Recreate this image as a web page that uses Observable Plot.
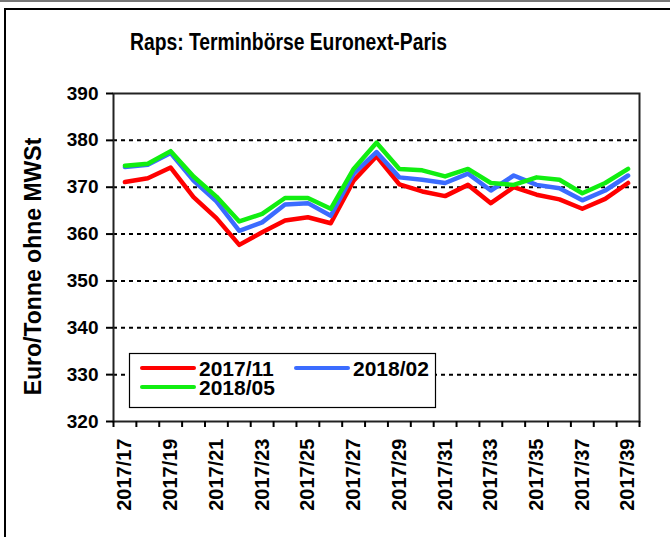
<!DOCTYPE html>
<html>
<head>
<meta charset="utf-8">
<script src="https://cdn.jsdelivr.net/npm/d3@7"></script>
<script src="https://cdn.jsdelivr.net/npm/@observablehq/plot@0.6"></script>
<style>
  html, body { margin: 0; padding: 0; background: #fff; }
  #wrap { position: relative; width: 670px; height: 537px; overflow: hidden; font-family: "Liberation Sans", Arial, sans-serif; }
  #topline { position: absolute; left: 0; top: 0; width: 670px; height: 2px; background: #777; }
  #border { position: absolute; left: 4px; top: 8px; width: 700px; height: 600px; border: 2px solid #000; box-sizing: border-box; }
  #chart { position: absolute; left: 0; top: 0; }
  #legend { position: absolute; left: 0; top: 0; }
</style>
</head>
<body>
<div id="wrap"><div id="topline"></div><div id="border"></div><div id="chart"></div><svg id="legend" width="670" height="537"></svg></div>
<script>
const title = "Raps: Terminbörse Euronext-Paris";
const yLabel = "Euro/Tonne ohne MWSt";
const weeks = ["2017/17","2017/18","2017/19","2017/20","2017/21","2017/22","2017/23","2017/24","2017/25","2017/26","2017/27","2017/28","2017/29","2017/30","2017/31","2017/32","2017/33","2017/34","2017/35","2017/36","2017/37","2017/38","2017/39"];
const seriesNames = ["2017/11", "2018/02", "2018/05"];
const seriesColors = ["#ff0000", "#3b6cff", "#11ee11"];
const s201711 = [371.1, 371.9, 374.2, 367.9, 363.4, 357.7, 360.4, 362.9, 363.6, 362.3, 371.4, 376.6, 370.6, 369.1, 368.1, 370.5, 366.6, 370.0, 368.4, 367.4, 365.4, 367.5, 370.9];
const s201802 = [374.3, 374.8, 377.3, 371.4, 367.0, 360.7, 362.5, 366.3, 366.6, 363.9, 372.9, 377.5, 372.1, 371.6, 370.9, 372.9, 369.3, 372.5, 370.5, 369.8, 367.2, 369.3, 372.5];
const s201805 = [374.6, 375.0, 377.7, 372.3, 368.0, 362.7, 364.3, 367.7, 367.7, 365.4, 373.9, 379.5, 373.9, 373.6, 372.3, 373.9, 370.9, 370.5, 372.1, 371.6, 368.7, 370.9, 373.9];
const yTicks = [320, 330, 340, 350, 360, 370, 380, 390];

const allSeries = [s201711, s201802, s201805];
const rows = [];
allSeries.forEach((vals, k) => vals.forEach((v, i) => rows.push({i, value: v, series: seriesNames[k]})));
const boundaries = d3.range(weeks.length + 1).map(k => k - 0.5);
const labelIdx = d3.range(0, weeks.length, 2);

const chart = Plot.plot({
  width: 670, height: 537,
  marginLeft: 113, marginRight: 31, marginTop: 93, marginBottom: 116,
  style: {fontFamily: "'Liberation Sans', Arial, sans-serif", fontWeight: "bold", background: "transparent", color: "#000", overflow: "visible"},
  x: {type: "linear", domain: [-0.5, weeks.length - 0.5]},
  y: {domain: [320, 390]},
  color: {domain: seriesNames, range: seriesColors},
  marks: [
    Plot.ruleY(yTicks.filter(v => v > 320 && v < 390), {stroke: "#000", strokeWidth: 2, strokeDasharray: "4,4"}),
    Plot.line(rows, {x: "i", y: "value", z: "series", stroke: "series", strokeWidth: 4.5, strokeLinejoin: "round", strokeLinecap: "round"}),
    Plot.frame({stroke: "#222", strokeWidth: 2}),
    Plot.axisY({ticks: yTicks, tickSize: 7, tickPadding: 8, strokeWidth: 2, fontSize: 19, label: null, tickFormat: d => String(d)}),
    Plot.axisX({ticks: boundaries, tickSize: 6, strokeWidth: 2, tickFormat: () => "", label: null}),
    Plot.axisX({ticks: labelIdx, tickSize: 0, tickRotate: -90, tickPadding: 17, tickFormat: i => weeks[i], fontSize: 20, label: null}),
    Plot.text([yLabel], {frameAnchor: "left", rotate: -90, textAnchor: "middle", lineAnchor: "middle", dx: -80, dy: 9, fontSize: 23, fontWeight: "bold", className: "ylab"}),
    Plot.text([title], {frameAnchor: "top", textAnchor: "middle", lineAnchor: "middle", dx: -88, dy: -51, fontSize: 23, fontWeight: "bold", className: "ttl"})
  ]
});
document.getElementById("chart").appendChild(chart);
// condensed title, as in the reference
d3.select(chart).selectAll(".ttl text").attr("textLength", 317).attr("lengthAdjust", "spacingAndGlyphs");

// Legend
const lg = d3.select("#legend");
lg.append("rect").attr("x", 129.5).attr("y", 353.5).attr("width", 306).attr("height", 54)
  .attr("fill", "#fff").attr("stroke", "#000").attr("stroke-width", 1.2);
const entries = [
  {name: seriesNames[0], color: seriesColors[0], x: 140, y: 368},
  {name: seriesNames[1], color: seriesColors[1], x: 294, y: 368},
  {name: seriesNames[2], color: seriesColors[2], x: 140, y: 387}
];
entries.forEach(e => {
  lg.append("line").attr("x1", e.x + 2).attr("x2", e.x + 54).attr("y1", e.y).attr("y2", e.y)
    .attr("stroke", e.color).attr("stroke-width", 4).attr("stroke-linecap", "round");
  lg.append("text").attr("x", e.x + 59).attr("y", e.y + 8).text(e.name)
    .attr("font-family", "'Liberation Sans', Arial, sans-serif").attr("font-weight", "bold").attr("font-size", 21).attr("fill", "#000");
});
</script>
</body>
</html>
